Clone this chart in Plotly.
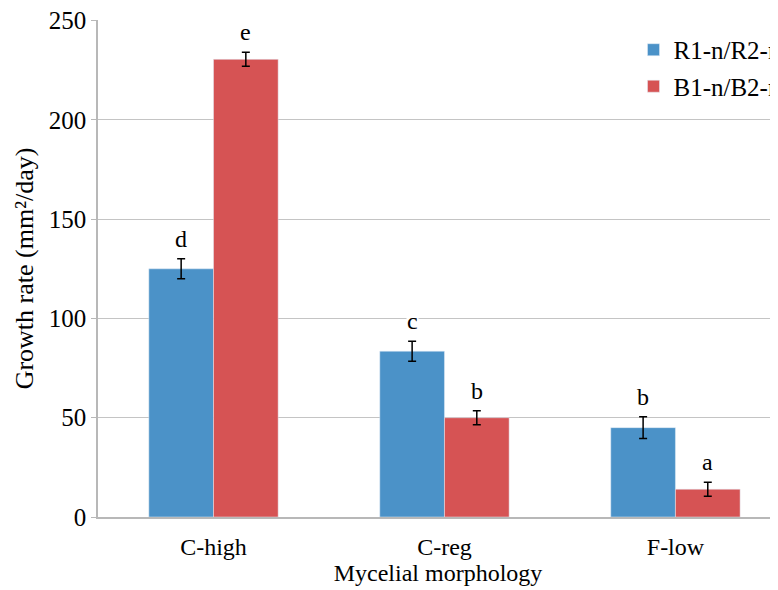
import plotly.graph_objects as go

categories = ["C-high", "C-reg", "F-low"]
series_names = ["R1-n/R2-n", "B1-n/B2-n"]
r_values = [125, 83.5, 45]
r_errors = [5, 5, 5.5]
b_values = [230.5, 50, 14]
b_errors = [3.5, 3.5, 3.5]
r_letters = ["d", "c", "b"]
b_letters = ["e", "b", "a"]
y_ticks = [0, 50, 100, 150, 200, 250]

blue = "#4b92c8"
red = "#d65354"
font_family = "Liberation Serif"
xs = list(range(len(categories)))

fig = go.Figure()
fig.add_trace(go.Bar(x=xs, y=r_values, name=series_names[0], marker_color=blue, legendgroup="r",
                     error_y=dict(type="data", array=r_errors, color="black", thickness=1.5, width=4)))
fig.add_trace(go.Bar(x=xs, y=b_values, name=series_names[1], marker_color=red, legendgroup="b",
                     error_y=dict(type="data", array=b_errors, color="black", thickness=1.5, width=4)))

off = 0.14
for i in xs:
    fig.add_annotation(x=i - off, y=r_values[i] + r_errors[i], text=r_letters[i], showarrow=False,
                       yanchor="bottom", yshift=6, font=dict(size=24, color="black", family=font_family),
                       bgcolor="white", borderpad=0)
    fig.add_annotation(x=i + off, y=b_values[i] + b_errors[i], text=b_letters[i], showarrow=False,
                       yanchor="bottom", yshift=6, font=dict(size=24, color="black", family=font_family),
                       bgcolor="white", borderpad=0)

fig.update_layout(
    width=770, height=582,
    margin=dict(l=90, r=0, t=12, b=73, autoexpand=False),
    paper_bgcolor="white", plot_bgcolor="white",
    barmode="group", bargap=0.44, bargroupgap=0,
    font=dict(family=font_family, size=24, color="black"),
    showlegend=True,
    legend=dict(x=0.7875, y=0.986, xanchor="left", yanchor="top", bgcolor="rgba(0,0,0,0)",
                font=dict(size=25, family=font_family), traceorder="grouped",
                tracegroupgap=1, itemwidth=30),
    xaxis=dict(tickmode="array", tickvals=xs, ticktext=categories, range=[-0.5, 2.444],
               showline=True, linecolor="#b8b8b8", linewidth=1.5, ticks="", showgrid=False,
               ticklabelstandoff=7, automargin=False,
               title=dict(text="Mycelial morphology", font=dict(size=24), standoff=0),
               tickfont=dict(size=24)),
    yaxis=dict(range=[0, 250.3], tickvals=y_ticks, showline=True, linecolor="#b8b8b8", linewidth=1.5,
               gridcolor="#c4c4c4", gridwidth=1.3, ticks="outside", ticklen=5, tickcolor="#b8b8b8",
               zeroline=False, tickfont=dict(size=25), ticklabeloverflow="allow", automargin=False,
               title=dict(text="Growth rate (mm²/day)", font=dict(size=26), standoff=8)),
)

fig.write_html("out.html")
